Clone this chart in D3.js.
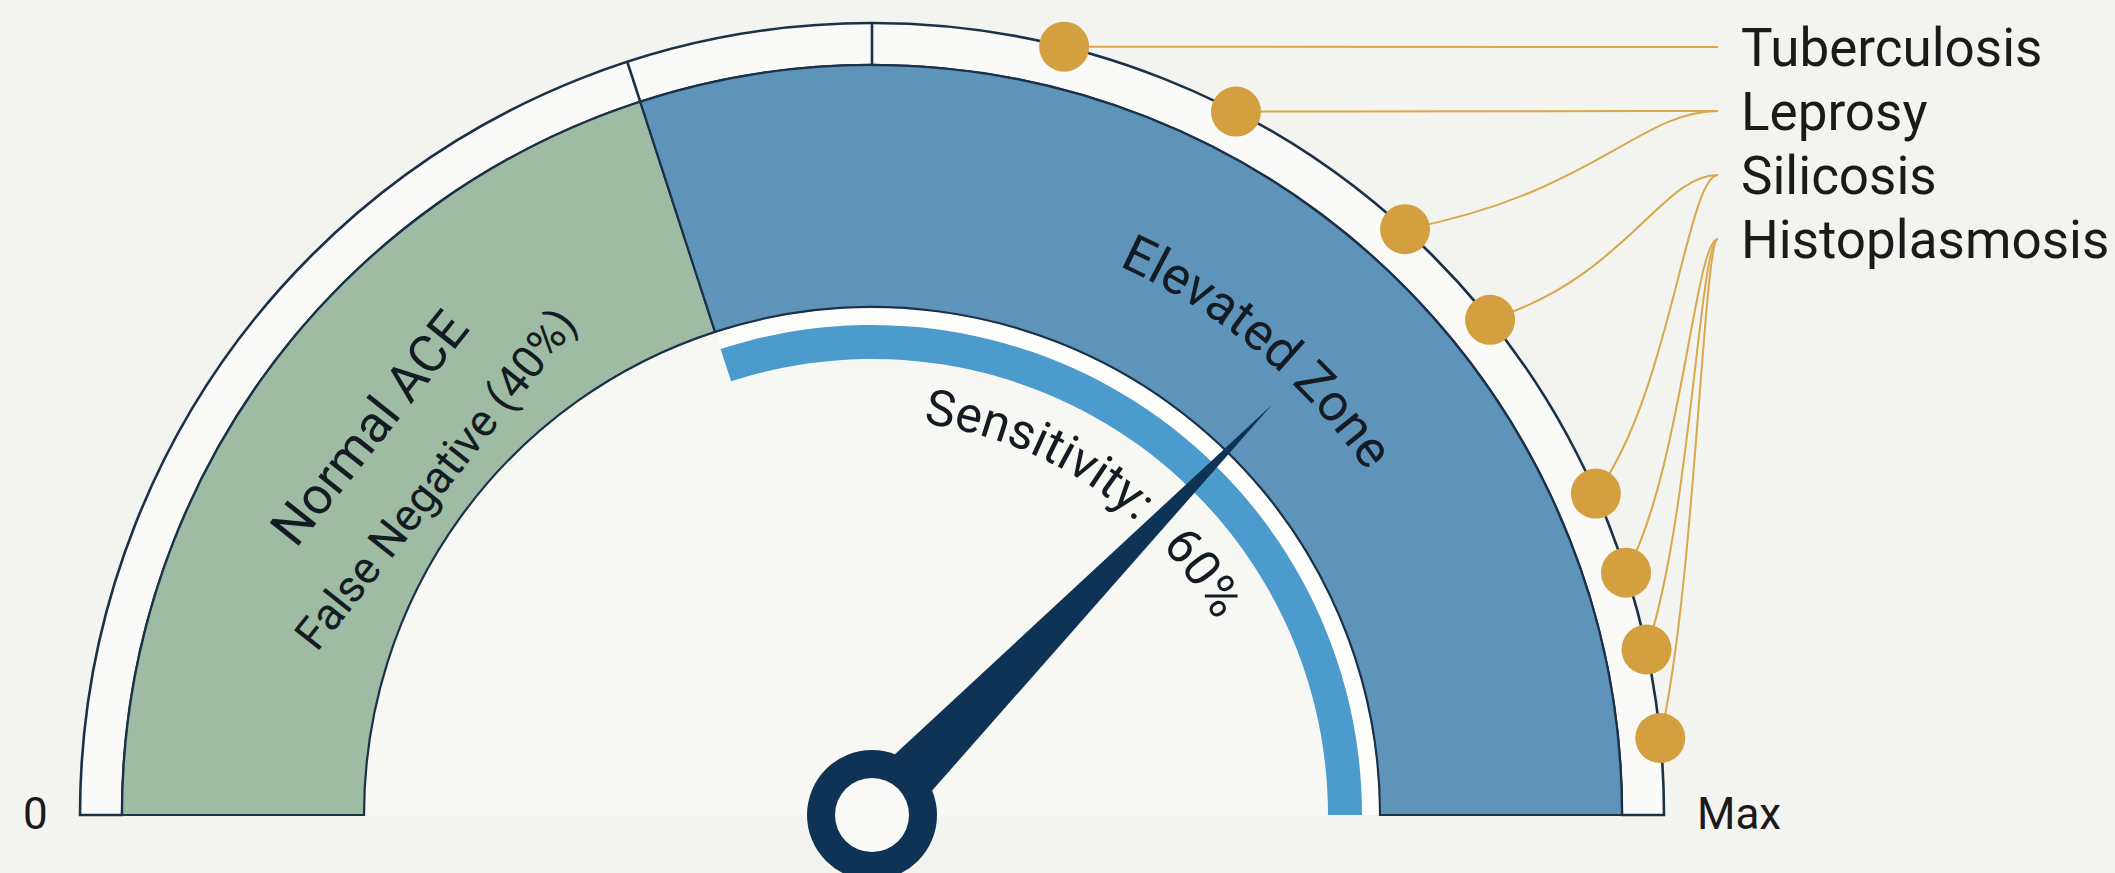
<!DOCTYPE html>
<html>
<head>
<meta charset="utf-8">
<script src="https://cdn.jsdelivr.net/npm/d3@7"></script>
<style>
	body { margin: 0; background: #f3f3ef; }
	svg { display: block; font-family: Roboto, "Liberation Sans", sans-serif; }
</style>
</head>
<body>
<div id="graphic"></div>
<script>
// gauge zones (percent of the dial, 0 = left end, 100 = Max)
const zoneNames = ["Normal ACE", "Elevated Zone"];
const zoneSubLabels = ["False Negative (40%)", ""];
const zoneBreaks = [0, 40, 100];
const zoneColours = ["#9dbca3", "#5e93ba"];

// sensitivity arc and needle
const sensitivity = 60;
const needleValue = 74.6;
const tickValues = [40, 50];
const endLabels = ["0", "Max"];

// diseases with raised ACE, and where their markers sit on the rim
const diseases = ["Tuberculosis", "Leprosy", "Silicosis", "Histoplasmosis"];
const markerValues = [[57.8], [65.2, 73.5], [78.5, 86.7], [90.1, 93.3, 96.9]];

const width = 2115, height = 873;
const cx = 872, cy = 815;
const rOuter = 792, rBandOuter = 750, rBandInner = 508;
const rSensOuter = 490, rSensInner = 456;
const navy = "#0f3354", outline = "#1b3148", gold = "#d49f3e";

let svg = d3.select('#graphic').append('svg')
	.attr('width', width)
	.attr('height', height);

let g = svg.append('g').attr('transform', `translate(${cx},${cy})`);

//value -> angle (radians, clockwise from 12 o'clock)
let angle = d3.scaleLinear().domain([0, 100]).range([-Math.PI / 2, Math.PI / 2]);

function polar(r, a) {
	return [r * Math.sin(a), -r * Math.cos(a)];
}

let arc = d3.arc();

// inner face of the dial
g.append('path')
	.attr('d', arc({ innerRadius: 0, outerRadius: rBandInner, startAngle: angle(0), endAngle: angle(100) }))
	.attr('fill', '#f7f7f4');

// outer rim (thin ring between the bands and the edge)
g.append('path')
	.attr('d', arc({ innerRadius: rBandOuter, outerRadius: rOuter, startAngle: angle(0), endAngle: angle(100) }))
	.attr('fill', '#fafaf8')
	.attr('stroke', outline)
	.attr('stroke-width', 2.6);

// rim ticks
g.selectAll('.tick')
	.data(tickValues)
	.join('line')
	.attr('class', 'tick')
	.attr('x1', d => polar(rBandOuter, angle(d))[0])
	.attr('y1', d => polar(rBandOuter, angle(d))[1])
	.attr('x2', d => polar(rOuter, angle(d))[0])
	.attr('y2', d => polar(rOuter, angle(d))[1])
	.attr('stroke', outline)
	.attr('stroke-width', 2.6);

// zone bands
g.selectAll('.zone')
	.data(zoneNames)
	.join('path')
	.attr('class', 'zone')
	.attr('d', (d, i) => arc({ innerRadius: rBandInner, outerRadius: rBandOuter, startAngle: angle(zoneBreaks[i]), endAngle: angle(zoneBreaks[i + 1]) }))
	.attr('fill', (d, i) => zoneColours[i])
	.attr('stroke', outline)
	.attr('stroke-width', 2.2);

// sensitivity arc, covering the top 60% of the dial
let sensStart = 100 - sensitivity;
g.append('path')
	.attr('d', arc({ innerRadius: rSensOuter, outerRadius: rBandInner - 1.5, startAngle: angle(sensStart), endAngle: angle(100) }))
	.attr('fill', '#fdfdfc');
g.append('path')
	.attr('d', arc({ innerRadius: rSensInner, outerRadius: rSensOuter, startAngle: angle(sensStart), endAngle: angle(100) }))
	.attr('fill', '#4b9bcc');

// Normal ACE labels (straight, rotated along the band)
let normalAngle = -52.4 * Math.PI / 180;
[[zoneNames[0], 634, 52], [zoneSubLabels[0], 551, 45]].forEach(([txt, r, fs]) => {
	let p = polar(r, normalAngle);
	g.append('text')
		.attr('transform', `translate(${p[0]},${p[1]}) rotate(-51.5)`)
		.attr('text-anchor', 'middle')
		.attr('dominant-baseline', 'central')
		.style('font-size', fs + 'px')
		.style('fill', '#141b22')
		.text(txt);
});

// curved text helper: path is a clockwise half circle from the left end
let defs = svg.append('defs');
function curvedText(id, r, startDeg, txt, fs, anchor) {
	let a = polar(r, -Math.PI / 2), b = polar(r, Math.PI / 2);
	defs.append('path')
		.attr('id', id)
		.attr('d', `M${a[0] + cx},${a[1] + cy} A${r},${r} 0 0 1 ${b[0] + cx},${b[1] + cy}`);
	svg.append('text')
		.style('font-size', fs + 'px')
		.style('fill', '#141b22')
		.attr('text-anchor', anchor)
		.append('textPath')
		.attr('href', '#' + id)
		.attr('startOffset', (startDeg + 90) / 180 * Math.PI * r)
		.text(txt);
}

curvedText('elevPath', 602, 39.7, zoneNames[1], 52, 'middle');
curvedText('sensPath1', 395, 7.4, 'Sensitivity:', 50, 'start');
curvedText('sensPath2', 395, 47, sensitivity + '%', 50, 'start');

// needle
let na = angle(needleValue);
let tip = polar(573, na);
let perp = [Math.cos(na), Math.sin(na)];
let hw = 29;
g.append('path')
	.attr('d', `M${tip[0]},${tip[1]} L${perp[0] * hw},${perp[1] * hw} L${-perp[0] * hw},${-perp[1] * hw} Z`)
	.attr('fill', navy);
g.append('circle').attr('r', 65).attr('fill', navy);
g.append('circle').attr('r', 37).attr('fill', '#f9f9f7');

// end labels
g.selectAll('.end-label')
	.data(endLabels)
	.join('text')
	.attr('class', 'end-label')
	.attr('x', (d, i) => i == 0 ? -cx + 23 : rOuter + 33)
	.attr('y', 14)
	.style('font-size', '44px')
	.style('fill', '#1a1a1a')
	.text(d => d);

// disease labels and connectors
let labelX = 1741, lineEndX = 1718;
let labelY = d3.scalePoint().domain(diseases).range([47, 239]);

let markers = [];
diseases.forEach((d, i) => {
	markerValues[i].forEach(v => {
		let p = polar(rOuter, angle(v));
		markers.push({ disease: d, x: p[0] + cx, y: p[1] + cy });
	});
});

svg.selectAll('.connector')
	.data(markers)
	.join('path')
	.attr('class', 'connector')
	.attr('d', d => {
		let ex = lineEndX, ey = labelY(d.disease);
		let c1 = [d.x + 0.6 * (ex - d.x), d.y - 0.3 * (d.y - ey)];
		let c2 = [ex - 0.25 * (ex - d.x), ey];
		return `M${d.x},${d.y} C${c1[0]},${c1[1]} ${c2[0]},${c2[1]} ${ex},${ey}`;
	})
	.attr('fill', 'none')
	.attr('stroke', '#d8a84c')
	.attr('stroke-width', 2);

svg.selectAll('.marker')
	.data(markers)
	.join('circle')
	.attr('class', 'marker')
	.attr('cx', d => d.x)
	.attr('cy', d => d.y)
	.attr('r', 25)
	.attr('fill', gold);

svg.selectAll('.disease-label')
	.data(diseases)
	.join('text')
	.attr('class', 'disease-label')
	.attr('x', labelX)
	.attr('y', d => labelY(d))
	.attr('dy', '0.36em')
	.style('font-size', '53px')
	.style('fill', '#1a1a1a')
	.text(d => d);
</script>
</body>
</html>
